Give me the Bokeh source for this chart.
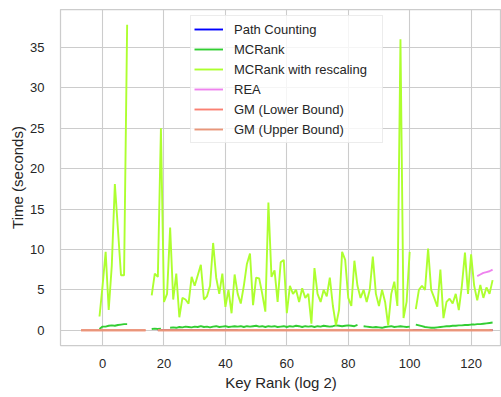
from bokeh.plotting import figure
from bokeh.models import Range1d, Legend, LegendItem, FixedTicker
from bokeh.embed import file_html
from bokeh.resources import INLINE

nan = float("nan")

# ---- data ----
gm_x = [-7, 14, nan, 18, 127]
gm_lower = [0, 0, nan, 0, 0]
gm_upper = [0, 0, nan, 0, 0]

path_x = [18, 44, nan, 101, 104, nan, 108, 109, nan, 126, 127]
path_y = [0.02, 0.02, nan, 0.02, 0.02, nan, 0.02, 0.02, nan, 0.02, 0.02]

rea_x = [122, 123, 124, 125, 126, 127]
rea_y = [6.7, 6.9, 7.1, 7.2, 7.3, 7.5]

rank_a = [-1, 0, 1, 2, 3, 4, 5, 6, 7, 8]
mc_a = [0.15, 0.45, 0.45, 0.55, 0.6, 0.55, 0.65, 0.7, 0.75, 0.75]
rs_a = [1.7, 5.5, 9.7, 2.5, 8.0, 18.1, 12.5, 6.8, 6.8, 37.8]

rank_b = list(range(16, 128))
rs_b = [4.3, 7.0, 6.6, 25.0, 3.5, 4.5, 12.7, 3.8, 7.0, 1.6,      # 16-25
        4.0, 3.8, 3.3, 6.6, 5.5, 6.8, 8.1, 3.8, 4.2, 5.5,       # 26-35
        10.8, 6.5, 4.5, 7.0, 2.9, 5.0, 2.1, 6.9, 4.5, 3.3,      # 36-45
        5.5, 8.2, 9.5, 3.1, 6.5, 6.4, 4.5, 2.3, 15.8, 6.6,      # 46-55
        7.4, 3.5, 8.4, 8.7, 2.1, 5.5, 4.5, 5.0, 3.5, 5.2,       # 56-65
        4.0, 4.5, 0.8, 7.7, 4.5, 3.5, 5.0, 4.2, 6.5, 3.0,       # 66-75
        0.6, 2.5, 9.7, 8.7, 4.0, 3.0, 8.6, 5.5, 4.0, 5.0,       # 76-85
        3.5, 5.0, 9.1, 4.5, 3.0, 5.0, 3.5, 0.6, 4.5, 6.0,       # 86-95
        3.0, 36.0, 1.5, 3.5, 9.7, nan, 2.6, 5.0, 5.5, 5.0,      # 96-105
        10.1, 5.0, 4.0, 2.9, 7.5, 1.5, 3.5, 3.9, 3.3, 4.5,      # 106-115
        2.5, 5.5, 9.6, 4.5, 9.4, 5.5, 3.7, 5.6, 4.0, 5.3,       # 116-125
        4.5, 6.2]                                               # 126-127
mc_b = [0.15, 0.2, 0.15, 0.2, nan, nan, 0.3, 0.35, 0.3, 0.4,
        0.35, 0.45, 0.4, 0.35, 0.45, 0.4, 0.5, 0.4, 0.45, 0.35,
        0.45, 0.5, 0.4, 0.45, 0.5, 0.4, 0.45, 0.5, 0.45, 0.5,
        0.4, 0.5, 0.45, 0.5, 0.55, 0.45, 0.5, 0.4, 0.5, 0.45,
        0.5, 0.4, 0.45, 0.5, 0.4, 0.5, 0.45, 0.55, 0.5, 0.4,
        0.5, 0.45, 0.5, 0.4, 0.5, 0.45, 0.55, 0.5, 0.45, 0.5,
        0.6, 0.55, 0.5, 0.55, 0.6, 0.55, 0.5, 0.65, nan, 0.5,
        0.45, 0.4, 0.35, 0.4, 0.35, 0.3, 0.4, 0.45, 0.5, 0.4,
        0.45, 0.5, 0.45, 0.4, 0.45, nan, 0.7, 0.6, 0.5, 0.4,
        0.35, 0.3, 0.3, 0.35, 0.4, 0.45, 0.5, 0.5, 0.55, 0.55,
        0.6, 0.6, 0.65, 0.65, 0.7, 0.7, 0.75, 0.75, 0.8, 0.85,
        0.9, 0.95]

labels = ["Path Counting", "MCRank", "MCRank with rescaling", "REA",
          "GM (Lower Bound)", "GM (Upper Bound)"]
colors = ["#0000ff", "#32cd32", "#adff2f", "#ee82ee", "#fa8072", "#e9967a"]

FONT = "Liberation Sans"
TXT = "#262626"
GRID = "#cccccc"

p = figure(width=501, height=397, output_backend="svg", toolbar_location=None,
           x_range=Range1d(-13.7, 129.9), y_range=Range1d(-1.89, 39.69),
           min_border_left=60, min_border_right=0, min_border_top=9, min_border_bottom=52)
p.background_fill_color = "white"
p.border_fill_color = "white"
p.outline_line_color = GRID
p.outline_line_width = 1.25

p.xgrid.grid_line_color = GRID
p.ygrid.grid_line_color = GRID
p.xgrid.grid_line_width = 1.1
p.ygrid.grid_line_width = 1.1
p.xaxis.ticker = FixedTicker(ticks=[0, 20, 40, 60, 80, 100, 120])
p.yaxis.ticker = FixedTicker(ticks=[0, 5, 10, 15, 20, 25, 30, 35])
for ax in (p.xaxis[0], p.yaxis[0]):
    ax.axis_line_color = None
    ax.major_tick_line_color = None
    ax.minor_tick_line_color = None
    ax.major_label_text_font = FONT
    ax.major_label_text_font_size = "13px"
    ax.major_label_text_color = TXT
    ax.axis_label_text_font = FONT
    ax.axis_label_text_font_size = "15px"
    ax.axis_label_text_font_style = "normal"
    ax.axis_label_text_color = TXT
p.xaxis.axis_label = "Key Rank (log 2)"
p.yaxis.axis_label = "Time (seconds)"
p.xaxis.major_label_standoff = 7
p.yaxis.major_label_standoff = 10
p.xaxis.axis_label_standoff = 3
p.yaxis.axis_label_standoff = 1

lw = 1.9
r_path = p.line(path_x, path_y, color=colors[0], line_width=lw)
r_mc1 = p.line(rank_a, mc_a, color=colors[1], line_width=lw)
p.line(rank_b, mc_b, color=colors[1], line_width=lw)
r_rs1 = p.line(rank_a, rs_a, color=colors[2], line_width=lw)
p.line(rank_b, rs_b, color=colors[2], line_width=lw)
r_rea = p.line(rea_x, rea_y, color=colors[3], line_width=lw)
r_gl = p.line(gm_x, gm_lower, color=colors[4], line_width=lw)
r_gu = p.line(gm_x, gm_upper, color=colors[5], line_width=lw)

items = [LegendItem(label=l, renderers=[r]) for l, r in
         zip(labels, [r_path, r_mc1, r_rs1, r_rea, r_gl, r_gu])]
legend = Legend(items=items, location=(130, 202))
legend.label_text_font = FONT
legend.label_text_font_size = "13px"
legend.label_text_color = TXT
legend.glyph_width = 29
legend.glyph_height = 20
legend.label_height = 20
legend.label_width = 145
legend.spacing = 0
legend.padding = 3
legend.margin = 0
legend.label_standoff = 11
legend.border_line_color = "#d9d9d9"
legend.border_line_width = 1
legend.background_fill_alpha = 0.8
p.add_layout(legend, "center")

open("out.html", "w").write(file_html(p, INLINE))
